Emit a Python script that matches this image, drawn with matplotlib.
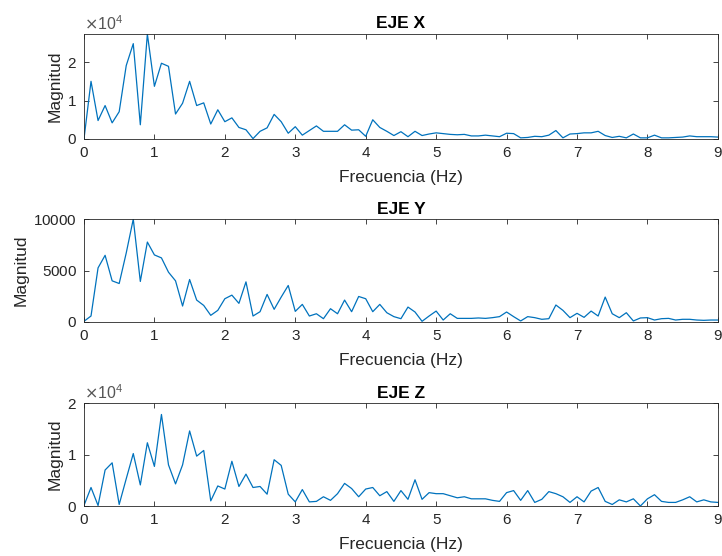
import numpy as np
import matplotlib
matplotlib.use("Agg")
import matplotlib.pyplot as plt
from matplotlib.ticker import ScalarFormatter

plt.rcParams['font.family'] = ['Liberation Sans', 'DejaVu Sans']

freq = np.round(np.arange(0, 91) * 0.1, 1)

eje_x = np.array([
    0.00, 1.50, 0.48, 0.87, 0.42, 0.71, 1.91, 2.48, 0.37, 2.73,
    1.37, 1.97, 1.89, 0.65, 0.93, 1.50, 0.87, 0.94, 0.39, 0.76,
    0.45, 0.55, 0.30, 0.24, 0.01, 0.20, 0.29, 0.64, 0.45, 0.15,
    0.32, 0.10, 0.22, 0.34, 0.20, 0.20, 0.20, 0.37, 0.23, 0.24,
    0.07, 0.50, 0.30, 0.20, 0.09, 0.19, 0.06, 0.20, 0.09, 0.13,
    0.16, 0.14, 0.12, 0.11, 0.12, 0.08, 0.08, 0.10, 0.08, 0.06,
    0.15, 0.14, 0.03, 0.04, 0.07, 0.06, 0.10, 0.22, 0.03, 0.13,
    0.14, 0.16, 0.16, 0.20, 0.09, 0.04, 0.07, 0.03, 0.13, 0.03,
    0.03, 0.10, 0.03, 0.03, 0.04, 0.05, 0.08, 0.06, 0.06, 0.06,
    0.05]) * 1e4

eje_y = np.array([
    65, 580, 5260, 6480, 4000, 3740, 6710, 10000, 3940, 7770,
    6520, 6230, 4840, 4000, 1550, 4130, 2130, 1610, 645, 1130,
    2260, 2610, 1810, 3900, 580, 1000, 2680, 1230, 2420, 3550,
    1030, 1710, 580, 800, 320, 1290, 800, 2130, 1000, 2480,
    2260, 1000, 1710, 900, 520, 320, 1450, 970, 65, 580,
    1060, 190, 800, 350, 350, 350, 390, 350, 420, 520,
    970, 520, 100, 520, 420, 260, 320, 1650, 1130, 420,
    840, 450, 1060, 580, 2420, 800, 420, 900, 100, 390,
    420, 190, 320, 350, 190, 260, 260, 190, 160, 190,
    190])

eje_z = np.array([
    0.01, 0.36, 0.01, 0.70, 0.84, 0.03, 0.53, 1.02, 0.41, 1.23,
    0.77, 1.78, 0.80, 0.43, 0.80, 1.46, 0.97, 1.08, 0.10, 0.39,
    0.33, 0.87, 0.38, 0.62, 0.36, 0.38, 0.23, 0.90, 0.79, 0.23,
    0.08, 0.32, 0.08, 0.09, 0.18, 0.11, 0.24, 0.44, 0.34, 0.18,
    0.33, 0.36, 0.20, 0.28, 0.09, 0.30, 0.13, 0.51, 0.13, 0.26,
    0.24, 0.24, 0.20, 0.16, 0.18, 0.14, 0.14, 0.14, 0.11, 0.09,
    0.26, 0.30, 0.11, 0.30, 0.07, 0.13, 0.28, 0.24, 0.18, 0.07,
    0.18, 0.08, 0.29, 0.36, 0.09, 0.03, 0.12, 0.08, 0.14, 0.00,
    0.14, 0.22, 0.09, 0.07, 0.07, 0.12, 0.18, 0.08, 0.12, 0.08,
    0.07]) * 1e4

titles = ["EJE X", "EJE Y", "EJE Z"]
series = [eje_x, eje_y, eje_z]
ylims = [eje_x.max(), 10000, 20000]
yticks = [[0, 10000, 20000], [0, 5000, 10000], [0, 10000, 20000]]
sci = [True, False, True]
xticks = list(range(0, 10))

fig = plt.figure(figsize=(7.22, 5.56), dpi=100)
positions = [
    [0.1163, 0.7500, 0.8780, 0.1888],
    [0.1163, 0.4209, 0.8780, 0.1850],
    [0.1163, 0.0899, 0.8780, 0.1850],
]
dark = '#262626'
for pos, t, s, yl, yt, sc in zip(positions, titles, series, ylims, yticks, sci):
    ax = fig.add_axes(pos)
    ax.plot(freq, s, color='#0072BD', lw=0.9)
    ax.set_xlim(0, 9)
    ax.set_ylim(0, yl)
    ax.set_xticks(xticks)
    ax.set_yticks(yt)
    ax.tick_params(direction='in', top=True, right=True, length=3.5, width=0.6,
                   labelsize=11, colors=dark, pad=5)
    for sp in ax.spines.values():
        sp.set_color(dark)
        sp.set_linewidth(0.6)
    fmt = ScalarFormatter(useMathText=True)
    if sc:
        fmt.set_powerlimits((4, 4))
    else:
        fmt.set_powerlimits((-5, 6))
        fmt.set_useOffset(False)
    ax.yaxis.set_major_formatter(fmt)
    ax.yaxis.get_offset_text().set_fontsize(11.5)
    ax.yaxis.get_offset_text().set_color('#555555')
    ax.set_title(t, fontsize=12.5, fontweight='bold', color='black', pad=4)
    ax.set_xlabel("Frecuencia (Hz)", fontsize=12.5, color=dark, labelpad=7)
    ax.set_ylabel("Magnitud", fontsize=12.5, color=dark, labelpad=3)

fig.savefig("out.png", dpi=100)
